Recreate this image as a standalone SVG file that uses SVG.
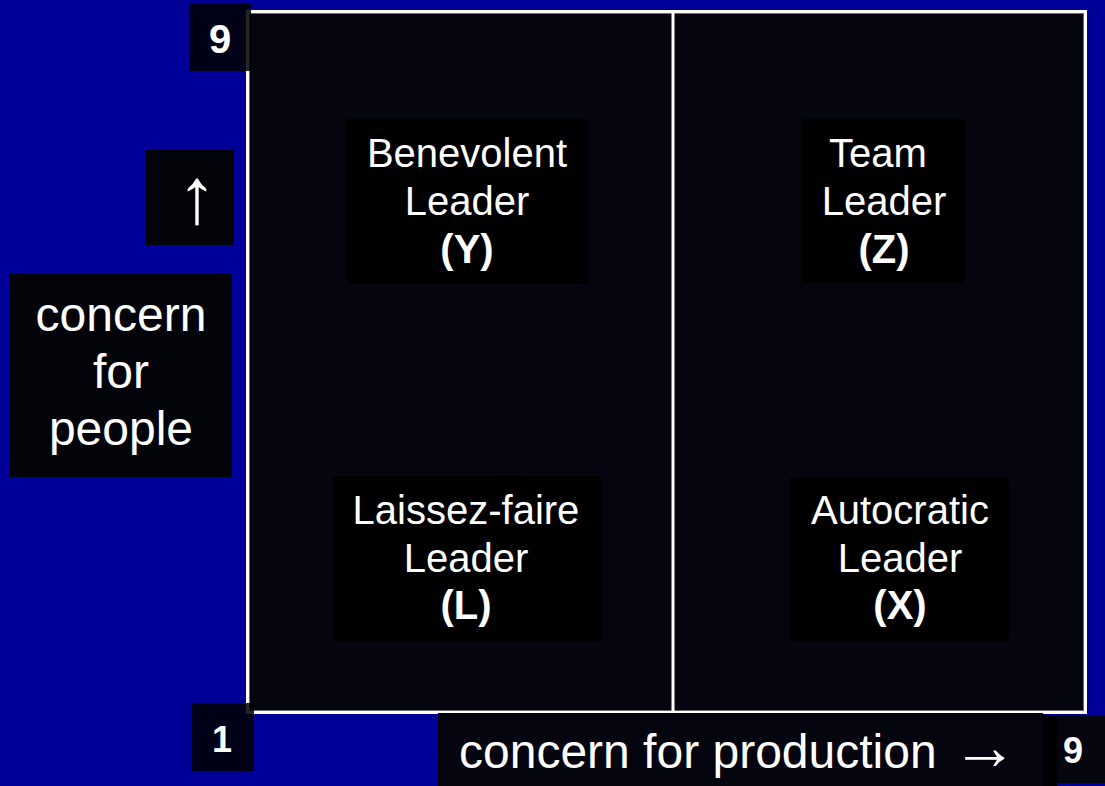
<svg xmlns="http://www.w3.org/2000/svg" width="1105" height="786" viewBox="0 0 1105 786">
<style>
.lbl{font-family:"Liberation Sans",Arial,sans-serif;fill:#ffffff;text-anchor:middle}
.box{fill:#000000}
.big{font-size:48px}
.mid{font-size:40px}
.b{font-weight:bold}
</style>
<rect x="0" y="0" width="1105" height="786" fill="#000099"/>
<g id="frame">
<rect x="247.5" y="11.5" width="838" height="701" fill="#05050f" stroke="#ffffff" stroke-width="3"/>
<rect x="249.5" y="13.5" width="834" height="697" fill="none" stroke="#6a6a70" stroke-width="1"/>
<line x1="673" y1="11" x2="673" y2="712" stroke="#ffffff" stroke-width="3"/>
</g>
<g id="connectors"></g>
<g id="benevolent">
<rect class="box" x="346" y="119" width="242" height="165"/>
<text class="lbl mid" x="467" y="167">Benevolent</text>
<text class="lbl mid" x="467" y="215">Leader</text>
<text class="lbl mid b" x="467" y="263">(Y)</text>
</g>
<g id="team">
<rect class="box" x="802" y="119" width="163" height="164"/>
<text class="lbl mid" x="878" y="167">Team</text>
<text class="lbl mid" x="884" y="215">Leader</text>
<text class="lbl mid b" x="884" y="263">(Z)</text>
</g>
<g id="laissez">
<rect class="box" x="333" y="476" width="268" height="165"/>
<text class="lbl mid" x="466" y="524">Laissez-faire</text>
<text class="lbl mid" x="466" y="572">Leader</text>
<text class="lbl mid b" x="466" y="619">(L)</text>
</g>
<g id="autocratic">
<rect class="box" x="790" y="477" width="219" height="164"/>
<text class="lbl mid" x="900" y="524">Autocratic</text>
<text class="lbl mid" x="900" y="572">Leader</text>
<text class="lbl mid b" x="900" y="619">(X)</text>
</g>
<g id="top9">
<rect x="189" y="3" width="62" height="68" fill="#000000" fill-opacity="0.85"/>
<text class="lbl b" x="220" y="53" font-size="40">9</text>
</g>
<g id="bottom1">
<rect x="192" y="703" width="62" height="68" fill="#000000" fill-opacity="0.85"/>
<text class="lbl b" x="222" y="752" font-size="36">1</text>
</g>
<g id="uparrow">
<rect x="146" y="150" width="88" height="95" fill="#03030a"/>
<text class="lbl" x="197" y="223" font-size="79">↑</text>
</g>
<g id="people">
<rect x="10" y="273" width="222" height="204" fill="#03030a"/>
<text class="lbl big" x="121" y="331">concern</text>
<text class="lbl big" x="121" y="388">for</text>
<text class="lbl big" x="121" y="445">people</text>
</g>
<g id="right9">
<rect x="1043" y="715" width="62" height="68" fill="#05050f"/>
<rect x="1043" y="715" width="14" height="71" fill="#000000"/>
<text class="lbl b" x="1073" y="763" font-size="36">9</text>
</g>
<g id="production">
<rect x="438" y="713" width="605" height="73" fill="#05050f"/>
<text class="lbl big" x="459" y="768" style="text-anchor:start">concern for production<tspan x="952" y="769" font-size="66">→</tspan></text>
</g>
</svg>
